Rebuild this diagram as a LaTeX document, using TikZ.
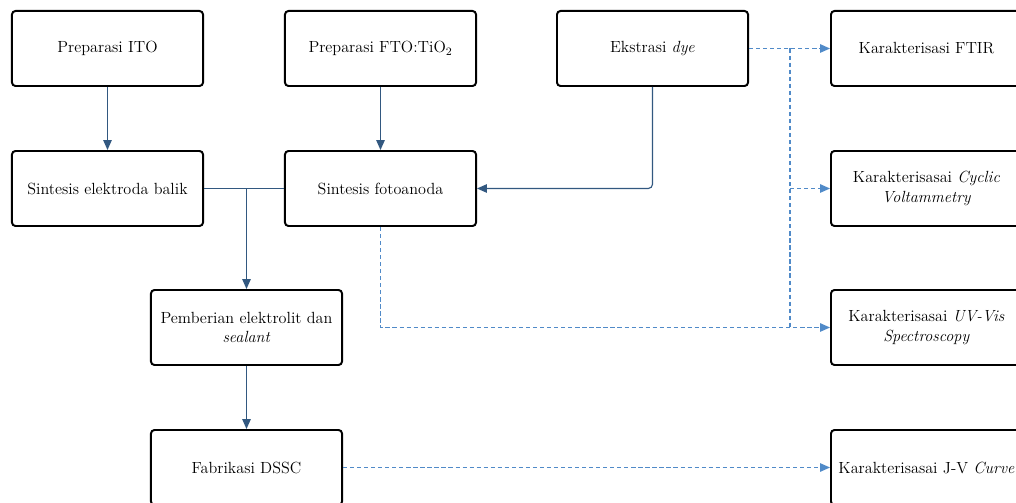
\documentclass[tikz,border=0pt]{standalone}
\usepackage{amssymb,amsmath}
\usepackage{tikz}
\usetikzlibrary{arrows.meta}

\definecolor{flowblue}{RGB}{50,88,128}
\definecolor{charblue}{RGB}{80,138,200}

\tikzset{
  box/.style={draw=black, line width=1.4pt, rounded corners=2.5pt, fill=white,
    minimum width=4.775cm, minimum height=1.875cm, align=center,
    font=\fontsize{11.5}{14}\selectfont},
  flow/.style={draw=flowblue, line width=0.8pt, -{Triangle[length=7pt,width=6pt]}},
  char/.style={draw=charblue, line width=0.8pt, dashed, dash pattern=on 3pt off 2pt,
    -{Triangle[length=7pt,width=6pt]}},
  charline/.style={draw=charblue, line width=0.8pt, dash pattern=on 3pt off 2pt}
}

\begin{document}
\begin{tikzpicture}[x=0.025cm,y=-0.025cm]

\useasboundingbox (0,0) rectangle (1016,503);

% kolom persiapan
\node[box] (ito) at (107.5,48.5) {Preparasi ITO};
\node[box] (fto) at (380.5,48.5) {Preparasi FTO:TiO$_2$};
\node[box] (dye) at (652.5,48.5) {Ekstrasi \textit{dye}};

\node[box] (balik) at (107.5,188.5) {Sintesis elektroda balik};
\node[box] (foto) at (380.5,188.5) {Sintesis fotoanoda};

\node[box] (elek) at (246.5,327.5) {Pemberian elektrolit dan\\\textit{sealant}};
\node[box] (dssc) at (246.5,467.5) {Fabrikasi DSSC};

% kolom karakterisasi
\node[box] (ftir) at (926.5,48.5) {Karakterisasi FTIR};
\node[box] (cv) at (926.5,188.5) {Karakterisasai \textit{Cyclic}\\\textit{Voltammetry}};
\node[box] (uv) at (926.5,327.5) {Karakterisasai \textit{UV-Vis}\\\textit{Spectroscopy}};
\node[box] (jv) at (926.5,467.5) {Karakterisasai J-V \textit{Curve}};

\coordinate (gabung) at (246.5,188.5);
\coordinate (cabang) at (790,48.5);

% alur fabrikasi
\draw[flow] (ito) -- (balik);
\draw[flow] (fto) -- (foto);
\draw[flow, rounded corners=3pt] (dye.south) |- (foto.east);
\draw[draw=flowblue, line width=0.8pt] (balik.east) -- (foto.west);
\draw[flow] (gabung) -- (elek);
\draw[flow] (elek) -- (dssc);

% karakterisasi
\draw[char] (dye.east) -- (ftir.west);
\draw[charline] (cabang) -- (cabang |- uv.west);
\draw[char] (cabang |- cv.west) -- (cv.west);
\draw[char] (foto.south) |- (uv.west);
\draw[char] (dssc.east) -- (jv.west);

\end{tikzpicture}
\end{document}
